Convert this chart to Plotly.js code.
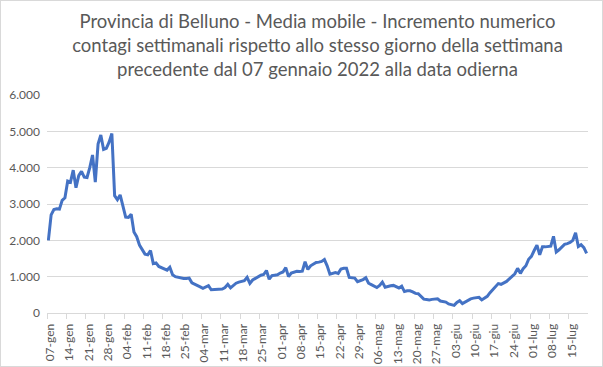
<!DOCTYPE html>
<html><head><meta charset="utf-8">
<script src="https://cdn.plot.ly/plotly-3.0.1.min.js"></script>
<style>
html,body{margin:0;padding:0;background:#fff;}
#chart{width:603px;height:367px;box-sizing:border-box;border:1px solid #d9d9d9;}
</style></head>
<body><div id="chart"></div>
<script>
// daily values from 07-gen-2022 (day 0) to 21-lug-2022 (day 195)
const values = [
2000,2700,2850,2870,2860,3100,3170,3630,3600,3930,
3450,3780,3900,3740,3730,4000,4350,3600,4650,4900,
4500,4530,4700,4940,3230,3120,3250,2950,2640,2630,
2720,2230,2100,1870,1730,1620,1600,1720,1360,1380,
1280,1250,1220,1180,1260,1050,1000,980,960,950,
950,960,830,800,760,720,680,710,750,640,
650,650,650,660,700,790,690,760,820,850,
870,890,980,815,910,960,1010,1040,1060,1170,
930,1030,1040,1050,1100,1130,1250,1000,1100,1130,
1150,1140,1150,1410,1200,1300,1340,1390,1400,1420,
1470,1300,1070,1100,1110,1090,1210,1230,1230,980,
980,960,860,880,920,970,820,780,750,700,
760,850,710,740,750,760,720,690,740,590,
610,610,580,540,530,460,380,370,360,375,
385,390,330,310,300,250,240,210,290,340,
260,310,350,390,410,420,430,360,420,460,
560,640,720,810,790,830,870,940,1000,1080,
1230,1090,1220,1300,1480,1560,1720,1870,1600,1820,
1820,1820,1840,2110,1680,1740,1820,1890,1910,1940,
2000,2210,1830,1880,1800,1640];
const tickLabels = ["07-gen","14-gen","21-gen","28-gen","04-feb","11-feb","18-feb","25-feb",
"04-mar","11-mar","18-mar","25-mar","01-apr","08-apr","15-apr","22-apr","29-apr",
"06-mag","13-mag","20-mag","27-mag","03-giu","10-giu","17-giu","24-giu","01-lug","08-lug","15-lug"];
const yTicks = [0,1000,2000,3000,4000,5000,6000];

const days = values.map((v,i)=>i);
const tickPos = tickLabels.map((t,i)=>i*7-0.5);

const font = "Lato, 'Open Sans', sans-serif";
Plotly.newPlot('chart', [{
  x: days, y: values, type: 'scatter', mode: 'lines',
  line: {color: '#4472C4', width: 3}, hoverinfo: 'skip'
}], {
  width: 601, height: 365,
  margin: {l: 46, r: 14, t: 94, b: 53},
  paper_bgcolor: '#fff', plot_bgcolor: '#fff',
  separators: ',.',
  showlegend: false,
  title: {
    text: 'Provincia di Belluno - Media mobile - Incremento numerico<br>contagi settimanali rispetto allo stesso giorno della settimana<br>precedente dal 07 gennaio 2022 alla data odierna',
    font: {family: font, size: 18.5, color: '#595959'},
    x: 0.5, xanchor: 'center', xref: 'paper',
    y: 0.925, yanchor: 'top', yref: 'container'
  },
  xaxis: {
    range: [-0.5, 195.5], tickmode: 'array', tickvals: tickPos, ticktext: tickLabels,
    tickangle: -90, ticks: 'outside', ticklen: 5, tickcolor: '#d9d9d9',
    showline: true, linecolor: '#d9d9d9', linewidth: 1,
    showgrid: false, zeroline: false, ticklabelshift: 3,
    tickfont: {family: font, size: 12, color: '#595959'}
  },
  yaxis: {
    range: [0, 6000], tickmode: 'array', tickvals: yTicks, tickformat: ',d',
    showgrid: true, gridcolor: '#d9d9d9', gridwidth: 1,
    showline: false, zeroline: false, ticks: '', ticklabelstandoff: 6,
    tickfont: {family: font, size: 12, color: '#595959'}
  }
}, {staticPlot: true, displayModeBar: false});
</script></body></html>
